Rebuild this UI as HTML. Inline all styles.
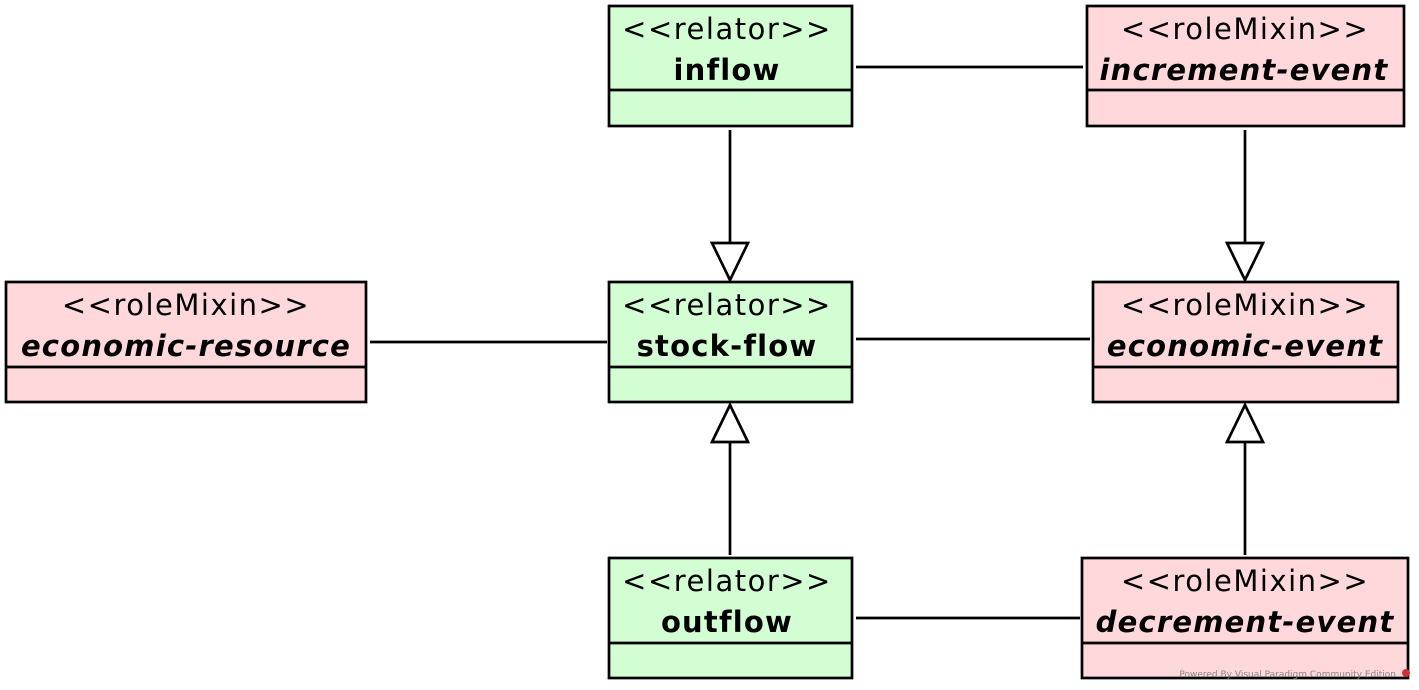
<!DOCTYPE html>
<html><head><meta charset="utf-8"><style>body{margin:0;background:#fff}svg{display:block}</style></head><body>
<svg width="1419" height="690" xmlns="http://www.w3.org/2000/svg" font-family="'DejaVu Sans','Liberation Sans',sans-serif">
<g stroke="#000" stroke-width="2.7">
<line x1="856" y1="67" x2="1083" y2="67"/>
<line x1="370" y1="342" x2="607" y2="342"/>
<line x1="856" y1="339" x2="1090" y2="339"/>
<line x1="856" y1="618" x2="1080" y2="618"/>
<line x1="730" y1="130" x2="730" y2="243"/>
<line x1="1245" y1="130" x2="1245" y2="243"/>
<line x1="730" y1="555" x2="730" y2="442"/>
<line x1="1245" y1="555" x2="1245" y2="442"/>
<polygon points="712,243 748,243 730,280" fill="#fff"/>
<polygon points="1227,243 1263,243 1245,280" fill="#fff"/>
<polygon points="712,442 748,442 730,405" fill="#fff"/>
<polygon points="1227,442 1263,442 1245,405" fill="#fff"/>
<rect x="609" y="6" width="243" height="120" fill="#d3fed3"/><line x1="609" y1="90" x2="852" y2="90"/>
<rect x="609" y="282" width="243" height="120" fill="#d3fed3"/><line x1="609" y1="367" x2="852" y2="367"/>
<rect x="609" y="558" width="243" height="120" fill="#d3fed3"/><line x1="609" y1="643" x2="852" y2="643"/>
<rect x="1087" y="6" width="317" height="120" fill="#fed8db"/><line x1="1087" y1="90" x2="1404" y2="90"/>
<rect x="6" y="282" width="360" height="120" fill="#fed8db"/><line x1="6" y1="367" x2="366" y2="367"/>
<rect x="1093" y="282" width="305" height="120" fill="#fed8db"/><line x1="1093" y1="367" x2="1398" y2="367"/>
<rect x="1082" y="558" width="326" height="120" fill="#fed8db"/><line x1="1082" y1="643" x2="1408" y2="643"/>
</g>
<g text-anchor="middle" font-size="29" letter-spacing="1.5">
<text x="727" y="39">&lt;&lt;relator&gt;&gt;</text>
<text x="727" y="315">&lt;&lt;relator&gt;&gt;</text>
<text x="727" y="591">&lt;&lt;relator&gt;&gt;</text>
<text x="1245" y="39">&lt;&lt;roleMixin&gt;&gt;</text>
<text x="186" y="315">&lt;&lt;roleMixin&gt;&gt;</text>
<text x="1245" y="315">&lt;&lt;roleMixin&gt;&gt;</text>
<text x="1245" y="591">&lt;&lt;roleMixin&gt;&gt;</text>
</g>
<g text-anchor="middle" font-size="29" font-weight="bold" letter-spacing="1.2">
<text x="727" y="80">inflow</text>
<text x="727" y="356">stock-flow</text>
<text x="727" y="632">outflow</text>
<text x="1244" y="80" font-style="italic">increment-event</text>
<text x="186" y="356" font-style="italic">economic-resource</text>
<text x="1245" y="356" font-style="italic">economic-event</text>
<text x="1245" y="632" font-style="italic">decrement-event</text>
</g>
<text x="1396" y="677" text-anchor="end" font-size="9" fill="#888">Powered By Visual Paradigm Community Edition</text>
<circle cx="1406" cy="673" r="4" fill="#c33"/>
</svg>
</body></html>
